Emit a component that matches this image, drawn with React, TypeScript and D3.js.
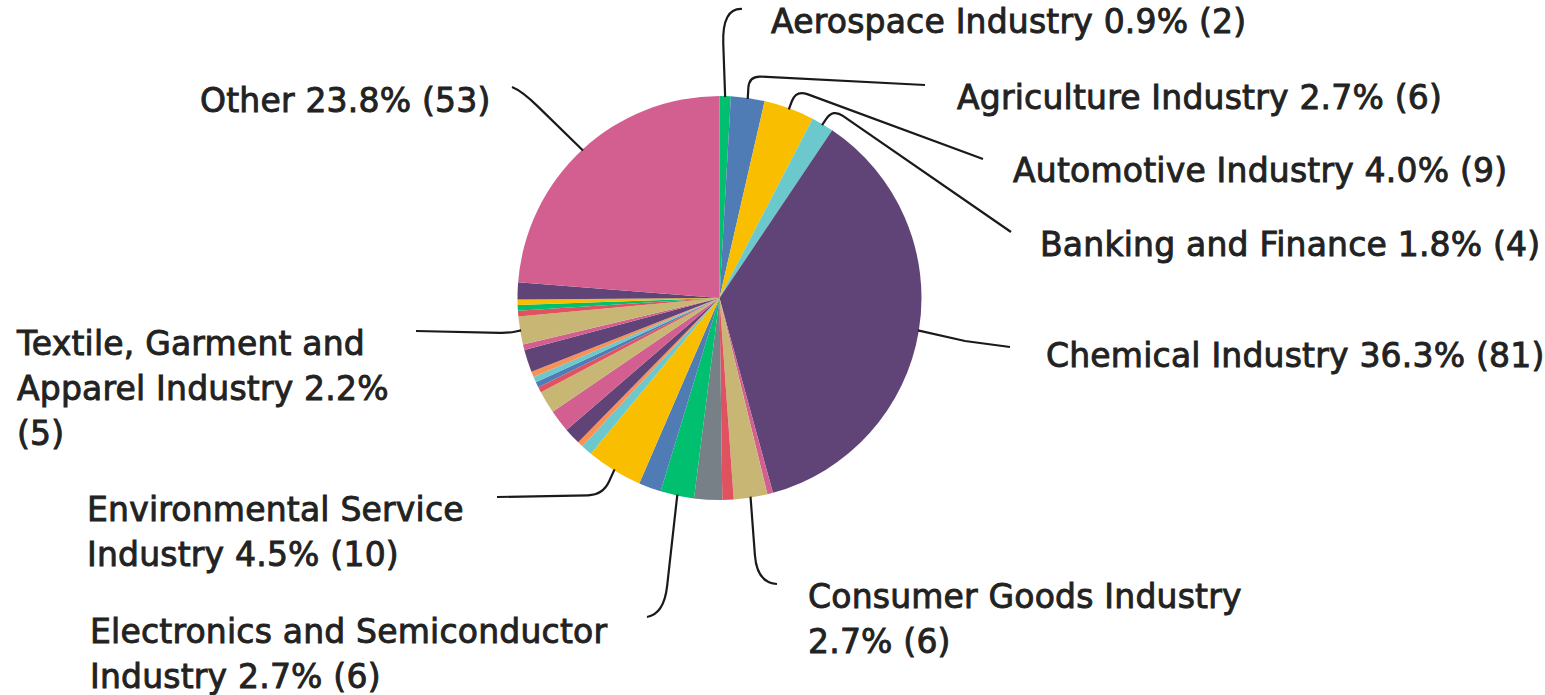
import React, { useEffect } from 'react';
import * as d3 from 'd3';

// ---------- data ----------
const categories: string[] = [
  'Aerospace Industry',
  'Agriculture Industry',
  'Automotive Industry',
  'Banking and Finance',
  'Chemical Industry',
  'Unlabelled 6',
  'Consumer Goods Industry',
  'Unlabelled 8',
  'Unlabelled 9',
  'Electronics and Semiconductor Industry',
  'Unlabelled 11',
  'Environmental Service Industry',
  'Unlabelled 13',
  'Unlabelled 14',
  'Unlabelled 15',
  'Unlabelled 16',
  'Unlabelled 17',
  'Unlabelled 18',
  'Unlabelled 19',
  'Unlabelled 20',
  'Unlabelled 21',
  'Unlabelled 22',
  'Unlabelled 23',
  'Textile, Garment and Apparel Industry',
  'Unlabelled 25',
  'Unlabelled 26',
  'Unlabelled 27',
  'Unlabelled 28',
  'Other',
];
const counts: number[] = [
  2, 6, 9, 4, 81, 1, 6, 2, 5, 6, 4, 10, 2, 1, 3, 4, 4, 1, 1, 1, 1, 4, 1, 5, 1, 1, 1, 3, 53,
];
const colorKeys: string[] = [
  'green', 'blue', 'yellow', 'teal', 'purple', 'pink', 'tan', 'red', 'gray', 'green',
  'blue', 'yellow', 'teal', 'orange', 'purple', 'pink', 'tan', 'red', 'blue', 'teal',
  'orange', 'purple', 'pink', 'tan', 'red', 'green', 'yellow', 'purple', 'pink',
];
const palette: Record<string, string> = {
  green: '#00BF6F',
  blue: '#507CB6',
  yellow: '#F9BE00',
  teal: '#6BC8CD',
  purple: '#614477',
  pink: '#D25F90',
  tan: '#C8B774',
  red: '#E05260',
  gray: '#768086',
  orange: '#F79155',
};

// ---------- layout ----------
const W = 1545;
const H = 695;
const CX = 719.5;
const CY = 298;
const R = 202;
const FONT = '"DejaVu Sans", sans-serif';
const FONT_SIZE = 33;
const LINE_H = 45;
const TEXT_COLOR = '#222';

type Pt = [number, number];
interface LabelLayout {
  p1: Pt;
  p2: Pt;
  rad: number;
  tx: number;
  ty: number;
  breaks: number[]; // words per line (last line takes the rest)
}
const labelLayout: Record<string, LabelLayout> = {
  'Aerospace Industry': { p1: [722, 8], p2: [742, 9], rad: 36, tx: 771, ty: 33, breaks: [] },
  'Agriculture Industry': { p1: [749, 76], p2: [925, 85], rad: 12, tx: 957, ty: 109, breaks: [] },
  'Automotive Industry': { p1: [796, 90], p2: [983, 159], rad: 12, tx: 1013, ty: 182, breaks: [] },
  'Banking and Finance': { p1: [833, 109], p2: [1011, 232], rad: 12, tx: 1040, ty: 256, breaks: [] },
  'Chemical Industry': { p1: [965, 341], p2: [1010, 347], rad: 0, tx: 1046, ty: 367, breaks: [] },
  'Consumer Goods Industry': { p1: [757, 583], p2: [777, 584], rad: 28, tx: 808, ty: 608, breaks: [3] },
  'Electronics and Semiconductor Industry': { p1: [664, 614], p2: [647, 617], rad: 28, tx: 90, ty: 643, breaks: [3] },
  'Environmental Service Industry': { p1: [603, 495], p2: [497, 497], rad: 15, tx: 87, ty: 521, breaks: [2] },
  'Textile, Garment and Apparel Industry': { p1: [508, 333], p2: [416, 331], rad: 8, tx: 17, ty: 355, breaks: [3, 3] },
  Other: { p1: [522, 91], p2: [512, 87], rad: 22, tx: 200, ty: 112, breaks: [] },
};

function leaderPath(p0: Pt, p1: Pt, p2: Pt, rad: number): string {
  const d01 = Math.hypot(p1[0] - p0[0], p1[1] - p0[1]);
  const d12 = Math.hypot(p2[0] - p1[0], p2[1] - p1[1]);
  if (rad <= 0 || d01 === 0 || d12 === 0) {
    return `M${p0[0]},${p0[1]}L${p1[0]},${p1[1]}L${p2[0]},${p2[1]}`;
  }
  const ra = Math.min(rad, d01);
  const rb = Math.min(rad, d12);
  const a: Pt = [p1[0] + ((p0[0] - p1[0]) * ra) / d01, p1[1] + ((p0[1] - p1[1]) * ra) / d01];
  const b: Pt = [p1[0] + ((p2[0] - p1[0]) * rb) / d12, p1[1] + ((p2[1] - p1[1]) * rb) / d12];
  return `M${p0[0]},${p0[1]}L${a[0]},${a[1]}Q${p1[0]},${p1[1]} ${b[0]},${b[1]}L${p2[0]},${p2[1]}`;
}

function wrapWords(text: string, breaks: number[]): string[] {
  const words = text.split(' ');
  const lines: string[] = [];
  let i = 0;
  for (const n of breaks) {
    lines.push(words.slice(i, i + n).join(' '));
    i += n;
  }
  lines.push(words.slice(i).join(' '));
  return lines.filter((l) => l.length > 0);
}

interface Datum {
  name: string;
  value: number;
  color: string;
}

export default function App() {
  useEffect(() => {
    document.body.style.margin = '0';
    document.body.style.overflow = 'hidden';
  }, []);

  const data: Datum[] = categories.map((name, i) => ({
    name,
    value: counts[i],
    color: palette[colorKeys[i]],
  }));
  const total = d3.sum(counts);

  const pie = d3
    .pie<Datum>()
    .value((d) => d.value)
    .sort(null)
    .startAngle(0)
    .endAngle(2 * Math.PI);
  const arcs = pie(data);
  const arcGen = d3.arc<d3.PieArcDatum<Datum>>().innerRadius(0).outerRadius(R);

  const fmt = d3.format('.1f');

  return (
    <svg width={W} height={H} style={{ display: 'block', background: '#fff' }}>
      <g transform={`translate(${CX},${CY})`}>
        {arcs.map((a, i) => (
          <path key={i} d={arcGen(a) || ''} fill={a.data.color} />
        ))}
      </g>
      {arcs.map((a, i) => {
        const lay = labelLayout[a.data.name];
        if (!lay) return null;
        const mid = (a.startAngle + a.endAngle) / 2;
        const p0: Pt = [CX + (R - 1) * Math.sin(mid), CY - (R - 1) * Math.cos(mid)];
        const full = `${a.data.name} ${fmt((a.data.value / total) * 100)}% (${a.data.value})`;
        const lines = wrapWords(full, lay.breaks);
        return (
          <g key={`l${i}`}>
            <path
              d={leaderPath(p0, lay.p1, lay.p2, lay.rad)}
              fill="none"
              stroke="#1a1a1a"
              strokeWidth={2.2}
            />
            <text
              x={lay.tx}
              y={lay.ty}
              fontFamily={FONT}
              fontSize={FONT_SIZE}
              letterSpacing={0.2}
              fill={TEXT_COLOR}
              stroke={TEXT_COLOR}
              strokeWidth={0.9}
            >
              {lines.map((ln, k) => (
                <tspan key={k} x={lay.tx} dy={k === 0 ? 0 : LINE_H}>
                  {ln}
                </tspan>
              ))}
            </text>
          </g>
        );
      })}
    </svg>
  );
}
